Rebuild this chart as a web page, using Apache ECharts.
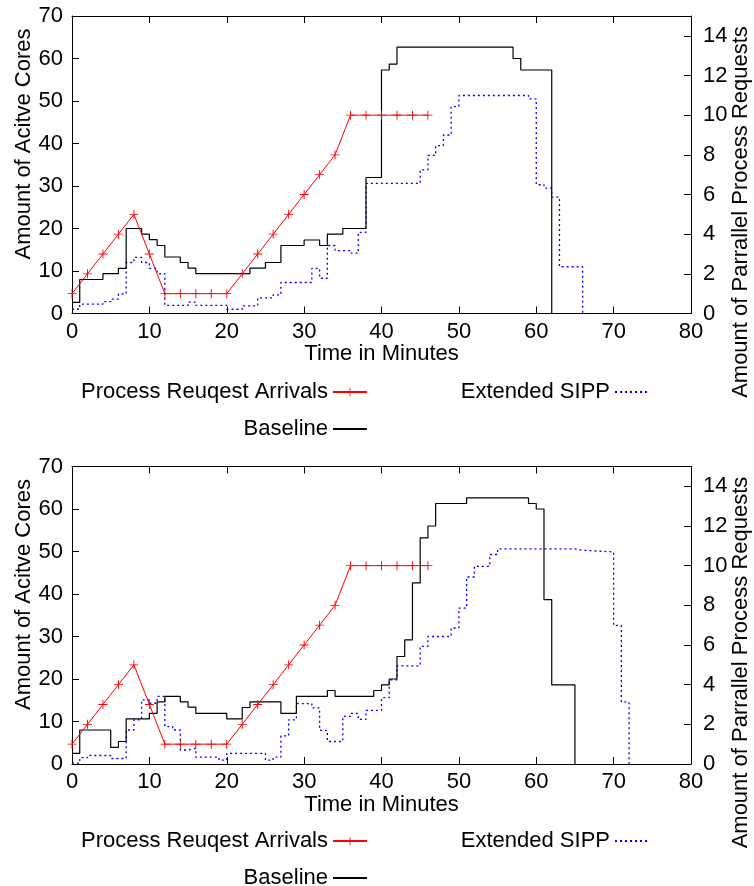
<!DOCTYPE html>
<html>
<head>
<meta charset="utf-8">
<script src="https://cdn.jsdelivr.net/npm/echarts@6/dist/echarts.min.js"></script>
<style>
  html, body { margin: 0; padding: 0; background: #fff; }
  #chart { width: 754px; height: 886px; }
</style>
</head>
<body>
<div id="chart"></div>
<script>
// x ticks
const timeTicks = [0, 10, 20, 30, 40, 50, 60, 70, 80];

// request arrivals (same in both runs), right axis
const arrivalTimes = [0, 2, 4, 6, 8, 10, 12, 14, 16, 18, 20, 22, 24, 26, 28, 30, 32, 34, 36, 38, 40, 42, 44, 46];
const arrivalRequests = [1, 2, 3, 4, 5, 3, 1, 1, 1, 1, 1, 2, 3, 4, 5, 6, 7, 8, 10, 10, 10, 10, 10, 10];

// top chart - step breakpoints (value holds until next time)
const topBaselineTimes = [0, 1, 4, 6, 7, 9, 10, 11, 12, 14, 15, 16, 23, 25, 27, 30, 32, 33, 35, 38, 40, 41, 42, 57, 58, 62];
const topBaselineCores = [2.6, 8, 9.4, 10.6, 20, 18.7, 17.4, 16, 13.3, 12, 10.7, 9.4, 10.7, 12, 16, 17.3, 16, 18.7, 20, 32, 57.3, 58.7, 62.7, 60, 57.3, 0];

const topSippTimes = [0, 1, 4, 5, 6, 7, 8, 9, 10, 11, 12, 15, 16, 20, 22, 24, 26, 27, 31, 32, 33, 34, 36, 37, 38, 45, 46, 47, 48, 49, 50, 59, 60, 61, 62, 63, 66];
const topSippCores = [1.0, 2.2, 2.8, 3.4, 4.6, 12, 13.2, 12, 10.6, 9.4, 1.9, 2.7, 1.9, 1.0, 1.8, 3.7, 4.4, 7.3, 10.6, 8.3, 16, 14.8, 14.2, 19.1, 30.6, 33.8, 37.2, 39.5, 42, 48.7, 51.3, 50.5, 30.3, 29.5, 27.4, 11, 0];

// bottom chart
const botBaselineTimes = [0, 1, 5, 6, 7, 10, 11, 12, 14, 15, 16, 20, 22, 23, 27, 29, 33, 34, 39, 40, 41, 42, 43, 44, 45, 46, 47, 51, 59, 60, 61, 62, 65];
const botBaselineCores = [2.5, 8, 3.9, 5.3, 10.6, 11.9, 14.6, 15.9, 14.6, 13.4, 11.9, 10.6, 13.3, 14.6, 11.9, 15.9, 17.3, 15.9, 17.3, 18.6, 20, 25.3, 29.2, 42.6, 53.2, 56, 61.3, 62.6, 61.3, 60, 38.7, 18.6, 0];

const botSippTimes = [0, 1, 2, 5, 7, 8, 9, 10, 11, 12, 13, 14, 15, 16, 19, 20, 25, 26, 27, 28, 29, 31, 32, 33, 35, 36, 37, 38, 40, 41, 42, 45, 46, 49, 50, 51, 52, 54, 55, 65, 66, 70, 71, 72];
const botSippCores = [0.2, 1.5, 2.0, 1.3, 8.0, 10.4, 15.1, 14.3, 15.9, 8.8, 8.0, 3.3, 3.7, 1.6, 0.9, 2.5, 0.9, 1.6, 6.6, 10.4, 14.2, 13.2, 7.9, 5.3, 11.2, 11.9, 10.5, 12.6, 15.6, 19.8, 23.1, 27.7, 30, 32, 36.7, 44, 46.5, 49.3, 50.6, 50.3, 49.9, 32.6, 14.6, 0];

const font = 'Liberation Sans, Arial, sans-serif';
const fs = 22;
const plus = 'path://M0,4.5H10V5.5H0Z M4.5,0H5.5V10H4.5Z';

function pairs(xs, ys) {
    return xs.map((x, i) => [x, ys[i]]);
}

let myChart = echarts.init(document.getElementById('chart'));

const gridTops = [16, 466.5];

function axesFor(g) {
    const tick = { show: true, inside: true, length: 7, lineStyle: { color: '#000' } };
    const line = { show: true, onZero: false, lineStyle: { color: '#000', width: 1 } };
    return {
        x: [{
            gridIndex: g, type: 'value', position: 'bottom', min: 0, max: 80, interval: 10,
            axisLine: line, axisTick: tick, splitLine: { show: false },
            axisLabel: { color: '#000', fontSize: fs, fontFamily: font, margin: 7 },
            name: 'Time in Minutes', nameLocation: 'middle', nameGap: 28,
            nameTextStyle: { color: '#000', fontSize: fs, fontFamily: font }
        }, {
            gridIndex: g, type: 'value', position: 'top', min: 0, max: 80, interval: 10,
            axisLine: line, axisTick: tick, splitLine: { show: false },
            axisLabel: { show: false }
        }],
        y: [{
            gridIndex: g, type: 'value', position: 'left', min: 0, max: 70, interval: 10,
            axisLine: line, axisTick: tick, splitLine: { show: false },
            axisLabel: { color: '#000', fontSize: fs, fontFamily: font, margin: 9 }
        }, {
            gridIndex: g, type: 'value', position: 'right', min: 0, max: 15, interval: 2,
            axisLine: line, axisTick: tick, splitLine: { show: false },
            axisLabel: {
                color: '#000', fontSize: fs, fontFamily: font, margin: 12,
                formatter: function (v) { return v > 14 ? '' : v; }
            }
        }]
    };
}

const a0 = axesFor(0), a1 = axesFor(1);

function seriesFor(g, baseT, baseV, sippT, sippV) {
    return [{
        name: 'Process Reuqest Arrivals', type: 'line',
        xAxisIndex: g * 2, yAxisIndex: g * 2 + 1,
        data: pairs(arrivalTimes, arrivalRequests),
        symbol: plus, symbolSize: 9, showSymbol: true,
        lineStyle: { color: '#ff0000', width: 1 },
        itemStyle: { color: '#ff0000' },
        animation: false, z: 4
    }, {
        name: 'Baseline', type: 'line', step: 'end',
        xAxisIndex: g * 2, yAxisIndex: g * 2,
        data: pairs(baseT, baseV),
        showSymbol: false, symbol: 'none',
        lineStyle: { color: '#000', width: 1.2 },
        itemStyle: { color: '#000' },
        animation: false, z: 3
    }, {
        name: 'Extended SIPP', type: 'line', step: 'end',
        xAxisIndex: g * 2, yAxisIndex: g * 2,
        data: pairs(sippT, sippV),
        showSymbol: false, symbol: 'none',
        lineStyle: { color: '#0000ff', width: 1.3, type: [2, 3] },
        itemStyle: { color: '#0000ff' },
        animation: false, z: 2
    }];
}

function legendsFor(rowA, rowB) {
    const base = {
        orient: 'horizontal', align: 'right', selectedMode: false,
        itemWidth: 34, itemHeight: 10,
        textStyle: { color: '#000', fontSize: fs, fontFamily: font }
    };
    const noDot = { opacity: 0 };
    return [
        Object.assign({}, base, { data: ['Process Reuqest Arrivals'], right: 381, top: rowA }),
        Object.assign({}, base, { data: [{ name: 'Extended SIPP', itemStyle: noDot }], right: 99, top: rowA }),
        Object.assign({}, base, { data: [{ name: 'Baseline', itemStyle: noDot }], right: 381, top: rowB })
    ];
}

function titlesFor(off) {
    return [{
        type: 'text', x: 24, y: 144 + off, rotation: Math.PI / 2,
        style: { text: 'Amount of Acitve Cores', fill: '#000', font: fs + 'px ' + font, textAlign: 'center', textVerticalAlign: 'middle' }
    }, {
        type: 'text', x: 741, y: 212 + off, rotation: Math.PI / 2,
        style: { text: 'Amount of Parrallel Process Requests', fill: '#000', font: fs + 'px ' + font, textAlign: 'center', textVerticalAlign: 'middle' }
    }];
}

let options = {
    backgroundColor: '#fff',
    animation: false,
    grid: gridTops.map(t => ({ left: 72, top: t, width: 619, height: 297.5, containLabel: false })),
    xAxis: a0.x.concat(a1.x),
    yAxis: a0.y.concat(a1.y),
    legend: legendsFor(376, 413).concat(legendsFor(825, 862)),
    graphic: titlesFor(0).concat(titlesFor(450.5)),
    series: seriesFor(0, topBaselineTimes, topBaselineCores, topSippTimes, topSippCores)
        .concat(seriesFor(1, botBaselineTimes, botBaselineCores, botSippTimes, botSippCores))
};

myChart.setOption(options);
</script>
</body>
</html>
